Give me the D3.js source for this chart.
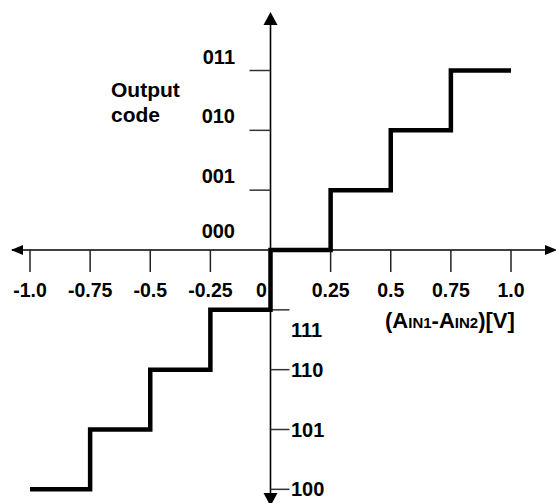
<!DOCTYPE html>
<html><head><meta charset="utf-8">
<script src="https://cdn.jsdelivr.net/npm/d3@7"></script>
<style>body{margin:0;background:#fff}svg{display:block}text{font-family:"Liberation Sans",Arial,sans-serif;font-weight:bold;fill:#000}</style>
</head><body><svg id="c" width="556" height="503"></svg>
<script>
const xTicks = [-1.0, -0.75, -0.5, -0.25, 0, 0.25, 0.5, 0.75, 1.0];
const xTickLabels = ["-1.0", "-0.75", "-0.5", "-0.25", "0", "0.25", "0.5", "0.75", "1.0"];
const codeLevels = [3, 2, 1, 0, -1, -2, -3, -4];
const codeLabels = ["011", "010", "001", "000", "111", "110", "101", "100"];
const stepX = [-1.0, -0.75, -0.5, -0.25, 0, 0.25, 0.5, 0.75, 1.0];
const stepCode = [-4, -3, -2, -1, 0, 1, 2, 3, 3];

const svg = d3.select("#c");
const x = d3.scaleLinear().domain([-1, 1]).range([30, 511]);
const y = d3.scaleLinear().domain([0, 3]).range([250, 70.5]);
const x0 = x(0), y0 = y(0);

// axes lines
svg.append("line").attr("x1", 12).attr("x2", 550).attr("y1", y0).attr("y2", y0).attr("stroke", "#000").attr("stroke-width", 1.6);
svg.append("line").attr("x1", x0).attr("x2", x0).attr("y1", 18).attr("y2", 500).attr("stroke", "#000").attr("stroke-width", 1.6);
// arrowheads
const arrows = [
  [[11, y0], [23, y0 - 5], [23, y0 + 5]],
  [[557, y0], [545, y0 - 5], [545, y0 + 5]],
  [[x0, 12], [x0 - 7, 25], [x0 + 7, 25]],
  [[x0, 506], [x0 - 7, 493], [x0 + 7, 493]]
];
svg.selectAll("path.arrow").data(arrows).join("path").attr("class", "arrow")
  .attr("d", d => "M" + d.join("L") + "Z").attr("fill", "#000");

// x ticks
svg.selectAll("line.xt").data(xTicks.filter(v => v !== 0)).join("line").attr("class", "xt")
  .attr("x1", d => x(d)).attr("x2", d => x(d)).attr("y1", y0).attr("y2", y0 + 22)
  .attr("stroke", "#222").attr("stroke-width", 1.5);
svg.selectAll("text.xl").data(xTicks).join("text").attr("class", "xl")
  .attr("x", (d, i) => d === 0 ? x(d) - 9 : x(d)).attr("y", 297)
  .attr("text-anchor", "middle").attr("font-size", 19.5)
  .text((d, i) => xTickLabels[i]);

// y ticks
svg.selectAll("line.yt").data(codeLevels.filter(v => v !== 0)).join("line").attr("class", "yt")
  .attr("x1", d => d > 0 ? x0 - 21 : x0).attr("x2", d => d > 0 ? x0 : x0 + 19)
  .attr("y1", d => y(d)).attr("y2", d => y(d))
  .attr("stroke", "#333").attr("stroke-width", 1.5);
svg.selectAll("text.yl").data(codeLevels).join("text").attr("class", "yl")
  .attr("x", d => d >= 0 ? 235 : 291)
  .attr("y", d => d > 0 ? y(d) - 7 : d === 0 ? y(d) - 12 : d === -1 ? y(d) + 27 : y(d) + 7)
  .attr("text-anchor", d => d >= 0 ? "end" : "start").attr("font-size", 20)
  .text((d, i) => codeLabels[i]);

// y axis title
const yt = svg.append("text").attr("x", 111).attr("y", 97).attr("font-size", 21);
yt.append("tspan").attr("x", 111).text("Output");
yt.append("tspan").attr("x", 111).attr("dy", 25).text("code");

// x axis title
const xt = svg.append("text").attr("x", 385).attr("y", 328).attr("font-size", 22);
xt.append("tspan").text("(A");
xt.append("tspan").attr("font-size", 15).text("IN1");
xt.append("tspan").text("-A");
xt.append("tspan").attr("font-size", 15).text("IN2");
xt.append("tspan").text(")[V]");

// staircase
const pts = stepX.map((v, i) => [v, stepCode[i]]);
const line = d3.line().x(d => x(d[0])).y(d => y(d[1])).curve(d3.curveStepAfter);
svg.append("path").datum(pts).attr("d", line).attr("fill", "none")
  .attr("stroke", "#000").attr("stroke-width", 4.5).attr("stroke-linejoin", "miter");
</script></body></html>
